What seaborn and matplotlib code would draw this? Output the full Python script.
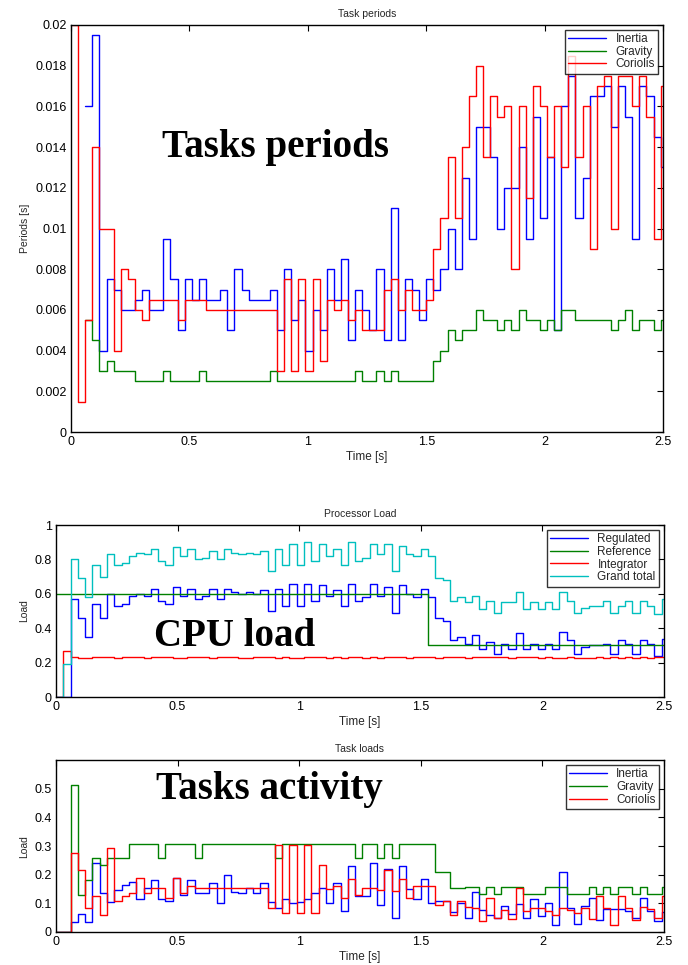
import numpy as np
import pandas as pd
import matplotlib
matplotlib.use("Agg")
import matplotlib.pyplot as plt
import seaborn as sns

# sampling step of the logged signals [s]
dt = 0.03
nan = np.nan

# ---- Task periods [s]
period_inertia = [nan, nan, .016, .0195, .004, .0075, .007, .006, .006, .0065,
                  .007, .006, .006, .0095, .0075, .005, .0075, .0065, .0075, .0065,
                  .0065, .007, .005, .008, .007, .0065, .0065, .0065, .007, .005,
                  .008, .0055, .0065, .004, .006, .005, .008, .0065, .0085, .0045,
                  .007, .006, .005, .008, .0045, .011, .0045, .0075, .007, .0055,
                  .0075, .007, .008, .010, .008, .0125, .0095, .015, .015, .0135,
                  .010, .012, .012, .014, .0095, .0155, .0105, .0135, .005, .016,
                  .0175, .0105, .0125, .0165, .0165, .017, .015, .017, .0155, .0095,
                  .017, .0165, .0145, .013]
period_gravity = [nan, nan, .0055, .0045, .003, .0035, .003, .003, .003, .0025,
                  .0025, .0025, .0025, .003, .0025, .0025, .0025, .0025, .003, .0025,
                  .0025, .0025, .0025, .0025, .0025, .0025, .0025, .0025, .003, .0025,
                  .0025, .0025, .0025, .0025, .0025, .0025, .0025, .0025, .0025, .0025,
                  .003, .0025, .0025, .003, .0025, .003, .0025, .0025, .0025, .0025,
                  .0025, .0035, .004, .005, .0045, .005, .005, .006, .0055, .0055,
                  .005, .0055, .005, .006, .0055, .0055, .005, .0055, .005, .006,
                  .006, .0055, .0055, .0055, .0055, .0055, .005, .0055, .006, .005,
                  .0055, .0055, .005, .0055]
period_coriolis = [.02, .0015, .0055, .014, .010, .010, .004, .008, .0075, .006,
                   .0055, .0065, .0065, .0065, .0065, .0055, .0065, .0065, .0065, .006,
                   .006, .006, .006, .006, .006, .006, .006, .006, .006, .003,
                   .0075, .003, .0075, .003, .0075, .0035, .0065, .006, .0065, .0055,
                   .006, .005, .005, .005, .007, .0075, .006, .007, .006, .006,
                   .0065, .009, .0105, .0135, .0105, .014, .0165, .018, .0135, .0165,
                   .0155, .016, .008, .016, .0115, .017, .016, .0135, .016, .013,
                   .0185, .0135, .016, .009, .017, .0175, .010, .0175, .0175, .016,
                   .0175, .0155, .0095, .017]

# ---- Processor load
load_regulated = [0, 0, .57, .46, .35, .54, .46, .60, .53, .54,
                  .59, .60, .59, .63, .56, .54, .64, .59, .63, .57,
                  .59, .63, .57, .63, .61, .60, .61, .60, .62, .50,
                  .63, .53, .66, .53, .66, .56, .65, .59, .62, .53,
                  .66, .56, .58, .66, .59, .64, .49, .65, .60, .58,
                  .63, .58, .46, .44, .33, .35, .31, .36, .28, .32,
                  .25, .31, .28, .37, .28, .31, .28, .31, .28, .38,
                  .33, .25, .29, .30, .30, .31, .25, .33, .31, .25,
                  .33, .31, .24, .34]
load_reference = [.6] * 51 + [.3] * 33
load_integrator = [0, .27, .235, .228, .229, .230, .231, .230, .229, .230,
                   .231, .230, .229, .230, .230, .231, .229, .228, .230, .231,
                   .230, .229, .230, .231, .230, .229, .228, .230, .231, .230,
                   .229, .230, .228, .229, .230, .231, .230, .229, .230, .229,
                   .230, .231, .229, .230, .229, .230, .231, .230, .229, .230,
                   .231, .230, .229, .230, .230, .231, .229, .230, .232, .233,
                   .232, .230, .229, .230, .231, .230, .229, .230, .228, .229,
                   .230, .229, .228, .229, .230, .229, .230, .229, .230, .229,
                   .230, .229, .230, .230]
load_total = [0, .19, .80, .69, .58, .77, .70, .83, .77, .78,
              .82, .84, .83, .86, .79, .77, .87, .82, .86, .80,
              .81, .85, .80, .86, .84, .83, .84, .83, .85, .73,
              .86, .77, .89, .77, .90, .79, .89, .82, .86, .77,
              .90, .79, .81, .89, .83, .89, .73, .88, .83, .82,
              .86, .82, .69, .68, .56, .58, .55, .59, .51, .56,
              .49, .55, .55, .61, .51, .55, .51, .55, .51, .61,
              .56, .49, .52, .53, .53, .56, .49, .53, .56, .49,
              .56, .53, .48, .57]

# ---- Task loads
tl_inertia = [0, 0, .035, .062, .035, .24, .135, .105, .145, .165,
              .175, .115, .155, .18, .115, .11, .19, .13, .18, .135,
              .135, .17, .10, .20, .14, .135, .155, .135, .17, .105,
              .085, .115, .10, .105, .115, .135, .155, .10, .17, .075,
              .23, .125, .125, .24, .094, .22, .05, .23, .15, .117,
              .186, .10, .11, .11, .07, .10, .05, .14, .078, .06,
              .05, .09, .064, .098, .05, .117, .055, .10, .023, .21,
              .084, .028, .092, .12, .041, .082, .082, .082, .075, .05,
              .12, .075, .04, .07]
tl_gravity = [0, 0, .515, .13, .18, .26, .235, .258, .258, .258,
              .309, .309, .309, .309, .258, .309, .309, .309, .309, .258,
              .309, .309, .309, .309, .309, .309, .309, .309, .309, .309,
              .258, .309, .309, .309, .309, .309, .309, .309, .309, .309,
              .309, .258, .309, .309, .258, .309, .258, .309, .309, .309,
              .309, .309, .21, .21, .152, .152, .157, .157, .131, .157,
              .131, .157, .157, .157, .131, .131, .131, .157, .157, .157,
              .131, .131, .131, .157, .131, .157, .131, .157, .157, .131,
              .157, .131, .131, .157]
tl_coriolis = [0, 0, .275, .215, .085, .125, .06, .295, .11, .125,
               .135, .19, .135, .155, .155, .12, .19, .137, .16, .155,
               .152, .152, .152, .152, .152, .152, .152, .152, .152, .085,
               .305, .065, .305, .065, .305, .065, .235, .15, .16, .12,
               .186, .129, .152, .152, .145, .217, .143, .186, .12, .16,
               .16, .16, .094, .11, .06, .11, .087, .085, .037, .12,
               .05, .078, .047, .155, .073, .084, .084, .073, .06, .084,
               .078, .067, .084, .047, .125, .084, .026, .125, .084, .043,
               .088, .082, .05, .127]

BLUE, GREEN, RED, CYAN = "#0000ff", "#008000", "#ff0000", "#00bfbf"

sns.set_theme(style="white")
plt.rcParams["font.family"] = ["Liberation Sans", "DejaVu Sans"]


def steps(values):
    # add one extra sample so the last step is drawn to its end
    v = list(values) + [values[-1]]
    return np.arange(len(v)) * dt, np.array(v, dtype=float)


def draw(ax, series, title, ylabel, ylim, yticks):
    for name, values, color in series:
        t, v = steps(values)
        sns.lineplot(x=t, y=v, ax=ax, color=color, label=name, lw=1.0,
                     drawstyle="steps-post", estimator=None)
    ax.set_xlim(0, 2.5)
    ax.set_ylim(*ylim)
    ax.set_xticks([0, 0.5, 1, 1.5, 2, 2.5])
    ax.set_xticklabels(["0", "0.5", "1", "1.5", "2", "2.5"])
    ax.set_yticks(yticks)
    ax.set_yticklabels(["%g" % y for y in yticks])
    ax.tick_params(direction="in", top=True, right=True, length=4, width=0.8,
                   labelsize=9, colors="black", pad=3)
    for s in ax.spines.values():
        s.set_color("black")
        s.set_linewidth(1.0)
    ax.set_title(title, fontsize=7.5, pad=6)
    ax.set_xlabel("Time [s]", fontsize=8.5, labelpad=2)
    ax.set_ylabel(ylabel, fontsize=7.5, labelpad=4)
    leg = ax.legend(loc="upper right", fontsize=8.5, handlelength=3.2,
                    frameon=True, fancybox=False, borderpad=0.3,
                    labelspacing=0.05, borderaxespad=0.4, handletextpad=0.8)
    leg.get_frame().set_edgecolor("black")
    leg.get_frame().set_linewidth(1.0)


fig = plt.figure(figsize=(6.88, 9.65), dpi=100)
ax1 = fig.add_axes([0.1032, 0.5523, 0.8605, 0.4218])
ax2 = fig.add_axes([0.0814, 0.2777, 0.8837, 0.1782])
ax3 = fig.add_axes([0.0814, 0.0342, 0.8837, 0.1780])

draw(ax1, [("Inertia", period_inertia, BLUE),
           ("Gravity", period_gravity, GREEN),
           ("Coriolis", period_coriolis, RED)],
     "Task periods", "Periods [s]", (0, 0.02), np.round(np.arange(0, 0.0201, 0.002), 3))
draw(ax2, [("Regulated", load_regulated, BLUE),
           ("Reference", load_reference, GREEN),
           ("Integrator", load_integrator, RED),
           ("Grand total", load_total, CYAN)],
     "Processor Load", "Load", (0, 1), [0, 0.2, 0.4, 0.6, 0.8, 1])
draw(ax3, [("Inertia", tl_inertia, BLUE),
           ("Gravity", tl_gravity, GREEN),
           ("Coriolis", tl_coriolis, RED)],
     "Task loads", "Load", (0, 0.6), [0, 0.1, 0.2, 0.3, 0.4, 0.5])

big = dict(fontsize=28, fontweight="bold", family="Liberation Serif",
           ha="center", va="baseline", color="black")
ax1.text(0.862, 0.0135, "Tasks periods", **big)
ax2.text(0.733, 0.297, "CPU load", **big)
ax3.text(0.877, 0.465, "Tasks activity", **big)

fig.savefig("out.png", dpi=100)
